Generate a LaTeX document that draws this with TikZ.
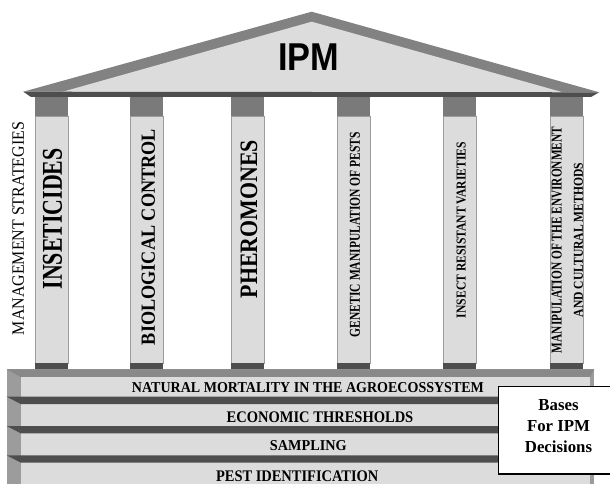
\documentclass[tikz,border=0pt]{standalone}
\usepackage{fontspec}
\usepackage{graphicx}
\setmainfont{Liberation Serif}
\newfontfamily\ipmfont{Liberation Sans}
\definecolor{stone}{HTML}{DCDCDC}
\definecolor{roofgray}{HTML}{828282}
\definecolor{capgray}{HTML}{7A7A7A}
\definecolor{shadegray}{HTML}{4E4E4E}
\definecolor{sidegray}{HTML}{9C9C9C}
\definecolor{topgray}{HTML}{898989}
\newcommand{\fitbf}[3]{\resizebox{#1pt}{#2pt}{\bfseries #3}}
\newcommand{\fitrm}[3]{\resizebox{#1pt}{#2pt}{#3}}
\tikzset{
  lbl/.style={inner sep=0pt},
  colname/.style={inner sep=0pt, rotate=90},
}
\begin{document}
\begin{tikzpicture}[x=1pt, y=-1pt]
  \useasboundingbox (0,0) rectangle (610,484);
  % roof
  \path[fill=roofgray] (23.3,91.7)--(311.7,11.7)--(599.3,92.3)--cycle;
  \path[fill=stone] (61.7,92)--(311.7,21.7)--(561.7,92)--cycle;
  \path[fill=shadegray] (23.3,91.7)--(599.3,92.3)--(591,97)--(31,97)--cycle;
  \path (308.8,56.7) node[lbl] (ipm) {\resizebox{61pt}{26.7pt}{\ipmfont\bfseries IPM}};
  % columns
  \foreach \x in {35,130,231,337,443,550} {
    \path[fill=capgray] (\x,97) rectangle ++(33.3,19.7);
    \path[draw=sidegray, line width=0.8pt, fill=stone] (\x,116.7) rectangle ++(33.3,246.6);
    \path[fill=shadegray] (\x,363.3) rectangle ++(33.3,6);
  }
  \path (18.3,228.5) node[colname] (manage) {\fitrm{213}{11.5}{MANAGEMENT STRATEGIES}};
  \path (52.5,218.8) node[colname] (insecticides) {\fitbf{141}{19}{INSETICIDES}};
  \path (148.3,237) node[colname] (biocontrol) {\fitbf{216}{13.3}{BIOLOGICAL CONTROL}};
  \path (249,219.2) node[colname] (pheromones) {\fitbf{158}{16.6}{PHEROMONES}};
  \path (355,234.5) node[colname] (genetic) {\fitbf{205}{10}{GENETIC MANIPULATION OF PESTS}};
  \path (461.2,230) node[colname] (resistant) {\fitbf{176}{9}{INSECT RESISTANT VARIETIES}};
  \path (556.7,240) node[colname] (environment) {\fitbf{226}{10}{MANIPULATION OF THE ENVIRONMENT}};
  \path (578.5,240) node[colname] (cultural) {\fitbf{154}{9}{AND CULTURAL METHODS}};
  % base
  \path[fill=sidegray] (6.7,369.3) rectangle (594.3,484);
  \path[fill=topgray] (6.7,369.3)--(594.3,369.3)--(590,377)--(20.7,377)--cycle;
  \path[fill=stone] (20.7,377) rectangle (590,484);
  \foreach \y in {396.7,426,455.3}
    \path[fill=shadegray] (6.7,\y)--(590,\y)--(590,\y+7.3)--(20.7,\y+7.3)--cycle;
  \path (308,387.7) node[lbl] (mortality) {\fitbf{352}{10}{NATURAL MORTALITY IN THE AGROECOSSYSTEM}};
  \path (320,417.3) node[lbl] (thresholds) {\fitbf{186.6}{10.7}{ECONOMIC THRESHOLDS}};
  \path (308.3,446) node[lbl] (sampling) {\fitbf{76.7}{10}{SAMPLING}};
  \path (297.2,476.3) node[lbl] (pestid) {\fitbf{162.3}{10.7}{PEST IDENTIFICATION}};
  % decisions box
  \path[draw=black, line width=1.4pt, fill=white] (498.3,386.7) rectangle (614,474);
  \path (558.5,426) node[lbl, align=center, font=\fontsize{16.8}{21}\selectfont\bfseries] (bases) {Bases\\For IPM\\Decisions};
\end{tikzpicture}
\end{document}
